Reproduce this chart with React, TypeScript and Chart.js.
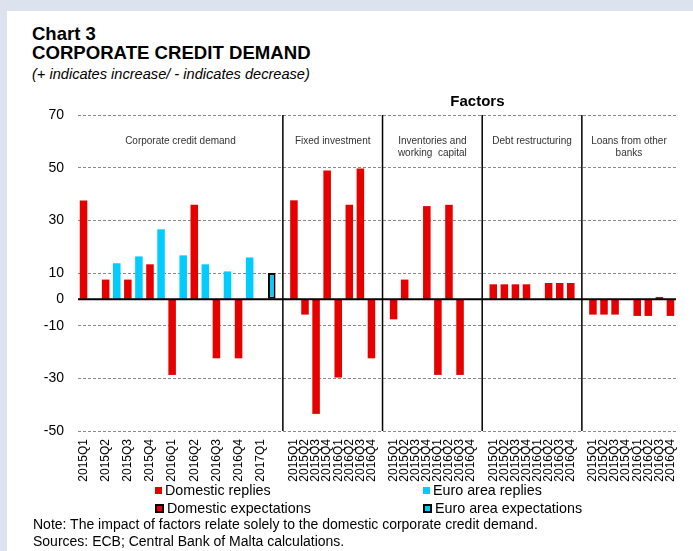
import React, { useEffect, useRef } from "react";
import { Chart, registerables } from "chart.js";

Chart.register(...registerables);

// ---- Data ----
const ccdQuarters = ["2015Q1", "2015Q2", "2015Q3", "2015Q4", "2016Q1", "2016Q2", "2016Q3", "2016Q4", "2017Q1"];
const ccdDomestic: (number | null)[] = [37.5, 7.5, 7.5, 13.3, -28.7, 35.9, -22.4, -22.4, null];
const ccdEuro: (number | null)[] = [null, 13.7, 16.3, 26.6, 16.7, 13.3, 10.6, 15.9, null];
const ccdDomesticExpect: (number | null)[] = [null, null, null, null, null, null, null, null, null];
const ccdEuroExpect: (number | null)[] = [null, null, null, null, null, null, null, null, 10];

const factorQuarters = ["2015Q1", "2015Q2", "2015Q3", "2015Q4", "2016Q1", "2016Q2", "2016Q3", "2016Q4"];
const fixedInvestment = [37.6, -5.8, -43.5, 48.9, -29.7, 35.9, 49.7, -22.4];
const inventoriesWorkingCapital = [-7.6, 7.5, 0, 35.4, -28.7, 35.9, -28.7, 0];
const debtRestructuring = [5.7, 5.7, 5.7, 5.7, 0, 6.2, 6.2, 6.2];
const loansFromOtherBanks = [-5.8, -5.8, -5.8, 0, -6.3, -6.3, 0.9, -6.3];

const panelTitles: string[][] = [
  ["Corporate credit demand"],
  ["Fixed investment"],
  ["Inventories and", "working  capital"],
  ["Debt restructuring"],
  ["Loans from other", "banks"],
];
const factorsTitle = "Factors";
const yTicks = [70, 50, 30, 10, 0, -10, -30, -50];

const RED = "#E60000";
const BLUE = "#00CCFF";
const FONT = "'Liberation Sans', Arial, Helvetica, sans-serif";

// ---- Build slot layout (one category slot per bar) ----
const labels: string[] = [];
const domestic: (number | null)[] = [];
const euro: (number | null)[] = [];
const domesticExp: (number | null)[] = [];
const euroExp: (number | null)[] = [];
const separatorSlots: number[] = [];

ccdQuarters.forEach((q, i) => {
  labels.push(q, "");
  domestic.push(ccdDomestic[i], null);
  euro.push(null, ccdEuro[i]);
  domesticExp.push(ccdDomesticExpect[i], null);
  euroExp.push(null, ccdEuroExpect[i]);
});
[fixedInvestment, inventoriesWorkingCapital, debtRestructuring, loansFromOtherBanks].forEach((series) => {
  separatorSlots.push(labels.length);
  labels.push("");
  domestic.push(null);
  euro.push(null);
  domesticExp.push(null);
  euroExp.push(null);
  factorQuarters.forEach((q, i) => {
    labels.push(q);
    domestic.push(series[i]);
    euro.push(null);
    domesticExp.push(null);
    euroExp.push(null);
  });
});

const overlayPlugin = {
  id: "overlay",
  afterDatasetsDraw(chart: any) {
    const { ctx, chartArea, scales } = chart;
    const x = scales.x;
    const y = scales.y;
    ctx.save();
    // zero line
    const y0 = y.getPixelForValue(0);
    ctx.strokeStyle = "#000";
    ctx.lineWidth = 2;
    ctx.beginPath();
    ctx.moveTo(chartArea.left, y0);
    ctx.lineTo(chartArea.right, y0);
    ctx.stroke();
    // separators
    const edges: number[] = [chartArea.left];
    ctx.lineWidth = 1.5;
    separatorSlots.forEach((s) => {
      const px = x.getPixelForValue(s);
      edges.push(px);
      ctx.beginPath();
      ctx.moveTo(px, chartArea.top);
      ctx.lineTo(px, chartArea.bottom);
      ctx.stroke();
    });
    edges.push(chartArea.right);
    // panel titles
    ctx.font = `10px ${FONT}`;
    ctx.fillStyle = "#333";
    ctx.textAlign = "center";
    ctx.textBaseline = "alphabetic";
    panelTitles.forEach((lines, i) => {
      const cx = (edges[i] + edges[i + 1]) / 2;
      lines.forEach((t, j) => ctx.fillText(t, cx, chartArea.top + 29 + j * 11.5));
    });
    // Factors
    ctx.font = `bold 15px ${FONT}`;
    ctx.fillStyle = "#000";
    ctx.fillText(factorsTitle, (edges[1] + edges[edges.length - 1]) / 2 - 2, chartArea.top - 9);
    ctx.restore();
  },
};

export default function App() {
  const ref = useRef<HTMLCanvasElement | null>(null);
  useEffect(() => {
    if (!ref.current) return;
    Chart.defaults.font.family = FONT;
    const common = { grouped: false, barPercentage: 0.68, categoryPercentage: 1.0 };
    const chart = new Chart(ref.current, {
      type: "bar",
      data: {
        labels,
        datasets: [
          { label: "Domestic replies", data: domestic, backgroundColor: RED, borderWidth: 0, ...common },
          { label: "Euro area replies", data: euro, backgroundColor: BLUE, borderWidth: 0, ...common },
          { label: "Domestic expectations", data: domesticExp, backgroundColor: RED, borderColor: "#000", borderWidth: 2, borderSkipped: false, ...common },
          { label: "Euro area expectations", data: euroExp, backgroundColor: BLUE, borderColor: "#000", borderWidth: 2, borderSkipped: false, ...common },
        ] as any,
      },
      options: {
        animation: false,
        responsive: false,
        layout: { padding: { left: 0, top: 115, right: 16, bottom: 0 } },
        plugins: { legend: { display: false }, tooltip: { enabled: false } },
        scales: {
          x: {
            type: "category",
            grid: { display: false, drawTicks: false },
            border: { display: false },
            ticks: {
              autoSkip: false,
              minRotation: 90,
              maxRotation: 90,
              padding: 8,
              color: "#000",
              font: { size: 12, family: FONT },
            },
            afterFit: (s: any) => {
              s.height = 120;
            },
          },
          y: {
            min: -50,
            max: 70,
            afterBuildTicks: (s: any) => {
              s.ticks = yTicks.map((v) => ({ value: v }));
            },
            grid: { color: "#8a8a8a", lineWidth: 1, drawTicks: false },
            border: { display: false, dash: [3, 2] },
            ticks: { padding: 14, color: "#000", font: { size: 14, family: FONT } },
            afterFit: (s: any) => {
              s.width = 78;
            },
          },
        },
      } as any,
      plugins: [overlayPlugin],
    });
    return () => chart.destroy();
  }, []);

  const text = (extra: React.CSSProperties): React.CSSProperties => ({
    position: "absolute",
    fontFamily: FONT,
    color: "#000",
    whiteSpace: "nowrap",
    ...extra,
  });
  const marker = (fill: string, bordered: boolean): React.CSSProperties => ({
    display: "inline-block",
    width: bordered ? 5 : 7,
    height: bordered ? 5 : 7,
    background: fill,
    border: bordered ? "2px solid #000" : "none",
    marginRight: 3,
    boxSizing: "content-box",
  });
  const legendItem = (left: number, top: number, label: string, fill: string, bordered: boolean) => (
    <div style={text({ left, top, fontSize: 14.3, lineHeight: "16px", display: "flex", alignItems: "center" })}>
      <span style={marker(fill, bordered)} />
      <span>{label}</span>
    </div>
  );

  return (
    <div style={{ position: "absolute", left: 0, top: 0, width: 693, height: 551, background: "#DCE3EF", overflow: "hidden" }}>
      <div style={{ position: "absolute", left: 7, top: 11, width: 686, height: 540, background: "#fff" }} />
      <div style={text({ left: 32, top: 24, fontSize: 18.5, fontWeight: "bold", lineHeight: "19px" })}>Chart 3</div>
      <div style={text({ left: 32, top: 43, fontSize: 18.6, fontWeight: "bold", lineHeight: "19px" })}>CORPORATE CREDIT DEMAND</div>
      <div style={text({ left: 32, top: 66, fontSize: 14.6, fontStyle: "italic", lineHeight: "17px" })}>
        (+ indicates increase/ - indicates decrease)
      </div>
      <canvas ref={ref} width={693} height={551} style={{ position: "absolute", left: 0, top: 0 }} />
      {legendItem(155, 482, "Domestic replies", RED, false)}
      {legendItem(423, 482, "Euro area replies", BLUE, false)}
      {legendItem(155, 500, "Domestic expectations", RED, true)}
      {legendItem(423, 500, "Euro area expectations", BLUE, true)}
      <div style={text({ left: 33, top: 516, fontSize: 14, lineHeight: "17px" })}>
        Note: The impact of factors relate solely to the domestic corporate credit demand.
        <br />
        Sources: ECB; Central Bank of Malta calculations.
      </div>
    </div>
  );
}
